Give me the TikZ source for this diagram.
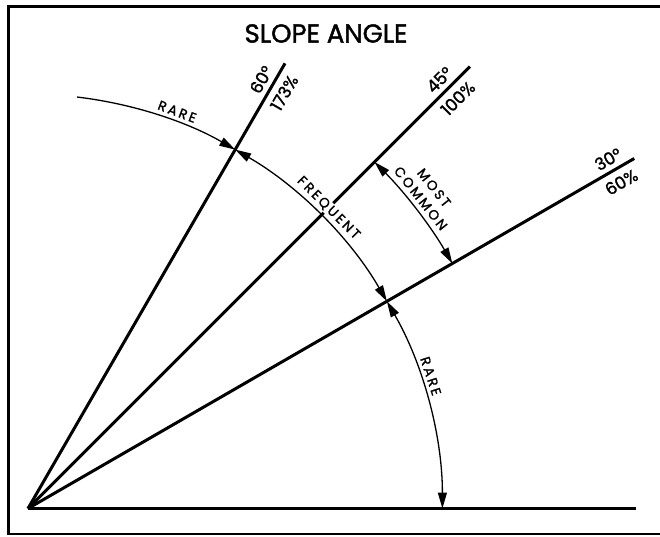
\documentclass[tikz,border=0pt]{standalone}
\usepackage{fontspec}
\setmainfont{Poppins}
\newfontfamily\heavyfont[FakeBold=1.6]{Poppins}
\newfontfamily\spacedfont[LetterSpace=18,FakeBold=1.4]{Poppins}
\usetikzlibrary{arrows.meta,calc}
\tikzset{
  frame/.style={line width=2.5pt},
  ray/.style={line width=3pt},
  dimarc/.style={line width=1.3pt},
  onetip/.style={-{Triangle[length=16pt,width=9pt]}},
  twotips/.style={{Triangle[length=16pt,width=9pt]}-{Triangle[length=16pt,width=9pt]}},
  numlbl/.style={font=\heavyfont\fontsize{17}{20}\selectfont,inner sep=0pt},
  arclbl/.style={font=\spacedfont\fontsize{13.5}{17}\selectfont,inner sep=1pt,fill=white}
}
% slope line: angle, length, label position, upper text, lower text
\newcommand{\slopeline}[5]{%
  \draw[ray] (O) -- ++(#1:#2) coordinate (e#1);
  \node[numlbl,rotate=#1,anchor=south] (d#1) at ($(O)+(#1:#3)+(#1+90:6)$) {#4};
  \node[numlbl,rotate=#1,anchor=north] (p#1) at ($(O)+(#1:#3)+(#1-90:7.5)$) {#5};}

\begin{document}
\begin{tikzpicture}[x=1pt,y=1pt]
  \def\rr{414.4} % radius of the main arc
  \def\rc{490}   % radius of the most-common arc
  \useasboundingbox (0,0) rectangle (660,536);
  % --- frame ---
  \draw[frame] (660,529.5) -| (8.5,2) -- (660,2);
  % --- title ---
  \node[font=\heavyfont\fontsize{26}{30}\selectfont] (title) at (326,502.5) {SLOPE ANGLE};
  % --- slope lines with angle / percent labels ---
  \coordinate (O) at (28,27.5);
  \draw[ray] (O) -- ++(0:608) coordinate (e0);
  \slopeline{60}{514}{488}{60°}{173\%}
  \slopeline{45}{625}{594}{45°}{100\%}
  \slopeline{30}{700}{677}{30°}{60\%}
  % --- labels along the arcs ---
  \foreach \ang/\rad/\nm/\lab in {69.4/424/rare1/RARE, 45/425/freq/FREQUENT, 18.2/424/rare2/RARE}{%
    \node[arclbl,rotate=\ang-90] (\nm) at ($(O)+(\ang:\rad)$) {\lab};}
  \node[arclbl,align=center,rotate=-51.7] (most) at ($(O)+(38.3:509)$) {MOST\\COMMON};
  % --- points on the arcs ---
  \coordinate (a83) at ($(O)+(83.2:\rr)$);
  \foreach \a in {60,30,0}{\coordinate (f\a) at ($(O)+(\a:\rr)$);}
  \coordinate (m45) at ($(O)+(45:\rc)$);
  % --- arcs ---
  \draw[dimarc,onetip] (a83) arc[start angle=83.2,end angle=60,radius=\rr];
  \draw[dimarc,twotips] (f60) arc[start angle=60,end angle=30,radius=\rr];
  \draw[dimarc,twotips] (f30) arc[start angle=30,end angle=0,radius=\rr];
  \draw[dimarc,twotips] (m45) arc[start angle=45,end angle=30,radius=\rc];
\end{tikzpicture}
\end{document}
